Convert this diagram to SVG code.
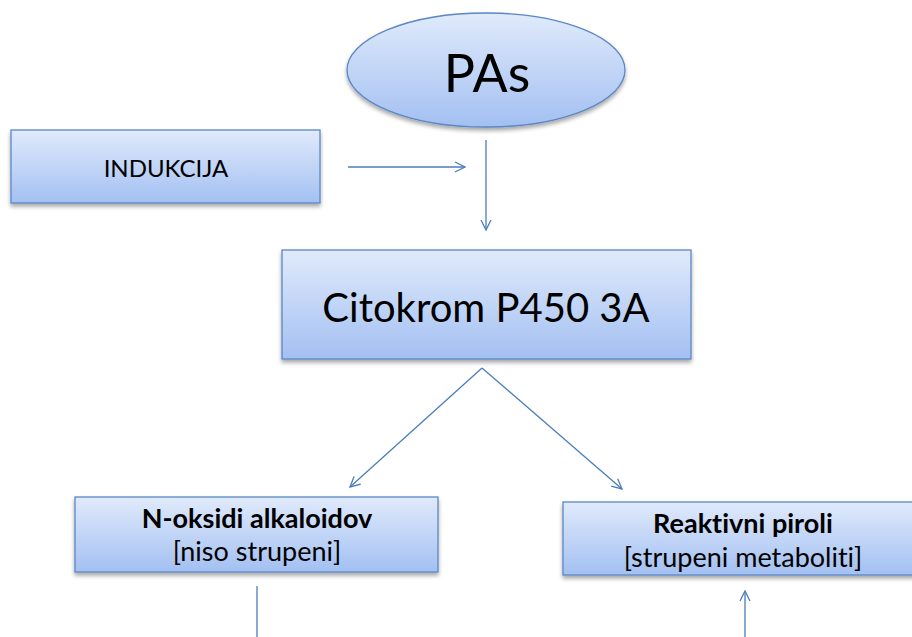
<svg xmlns="http://www.w3.org/2000/svg" width="912" height="637" viewBox="0 0 912 637">
<defs>
  <linearGradient id="g" x1="0" y1="0" x2="0" y2="1">
    <stop offset="0" stop-color="#e0eafb"/>
    <stop offset="1" stop-color="#a3c0f2"/>
  </linearGradient>
  <filter id="sh" x="-10%" y="-10%" width="120%" height="140%">
    <feGaussianBlur in="SourceAlpha" stdDeviation="2"/>
    <feOffset dx="0" dy="3" result="b"/>
    <feComponentTransfer><feFuncA type="linear" slope="0.35"/></feComponentTransfer>
    <feMerge><feMergeNode/><feMergeNode in="SourceGraphic"/></feMerge>
  </filter>
  <marker id="ah" viewBox="0 0 12 12" refX="11" refY="6" markerWidth="12" markerHeight="12" markerUnits="userSpaceOnUse" orient="auto">
    <path d="M1,1 L11,6 L1,11" fill="none" stroke="#4a7ebb" stroke-width="1.3"/>
  </marker>
</defs>
<style>
  .box { fill: url(#g); stroke: #5b87c4; stroke-width: 1.3; filter: url(#sh); }
  .t { font-family: Lato, "Open Sans", sans-serif; fill: #000; text-anchor: middle; font-variant-ligatures: none; }
  .c { stroke: #4a7ebb; stroke-width: 1.3; fill: none; }
</style>
<g id="connectors">
  <line class="c" x1="348" y1="167" x2="465" y2="167" marker-end="url(#ah)"/>
  <line class="c" x1="486" y1="140" x2="486" y2="230" marker-end="url(#ah)"/>
  <line class="c" x1="482" y1="368" x2="350" y2="487" marker-end="url(#ah)"/>
  <line class="c" x1="482" y1="368" x2="622" y2="489" marker-end="url(#ah)"/>
  <line class="c" x1="257" y1="586" x2="257" y2="637"/>
  <line class="c" x1="745" y1="637" x2="745" y2="591" marker-end="url(#ah)"/>
</g>
<g id="pas">
  <ellipse class="box" cx="486" cy="70" rx="139" ry="57"/>
  <text class="t" x="487" y="92" font-size="52">PAs</text>
</g>
<g id="indukcija">
  <rect class="box" x="11" y="130" width="309" height="73"/>
  <text class="t" x="166" y="177" font-size="24">INDUKCIJA</text>
</g>
<g id="citokrom">
  <rect class="box" x="282" y="250" width="409" height="109"/>
  <text class="t" x="486" y="322" font-size="40">Citokrom P450 3A</text>
</g>
<g id="noksidi">
  <rect class="box" x="75" y="497" width="363" height="75"/>
  <text class="t" x="257" y="528" font-size="27" font-weight="bold">N-oksidi alkaloidov</text>
  <text class="t" x="257" y="561" font-size="27">[niso strupeni]</text>
</g>
<g id="reaktivni">
  <rect class="box" x="563" y="502" width="360" height="73"/>
  <text class="t" x="743" y="533" font-size="27" font-weight="bold">Reaktivni piroli</text>
  <text class="t" x="743" y="567" font-size="27">[strupeni metaboliti]</text>
</g>
</svg>
